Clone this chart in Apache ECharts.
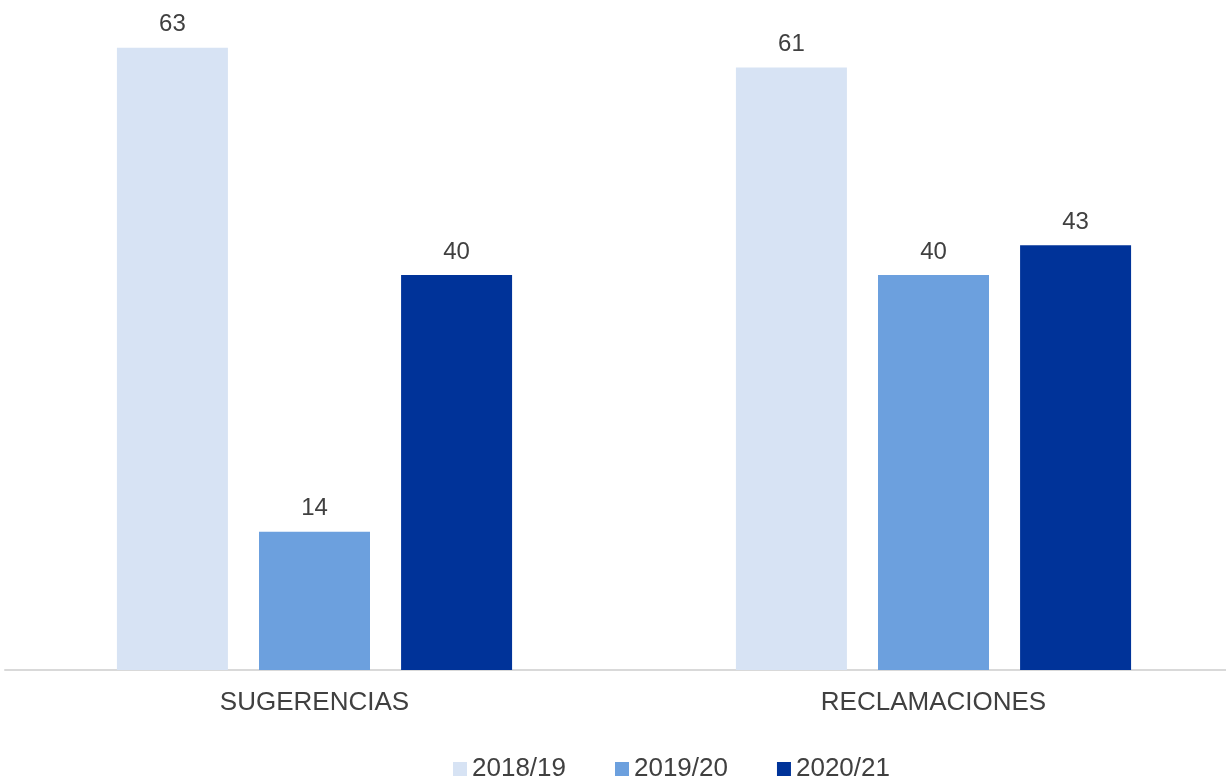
<!DOCTYPE html>
<html>
<head>
<meta charset="utf-8">
<script src="https://cdn.jsdelivr.net/npm/echarts@6/dist/echarts.min.js"></script>
<style>
  html, body { margin: 0; padding: 0; background: #ffffff; }
  #myChart { width: 1226px; height: 779px; }
</style>
</head>
<body>
<div id="myChart"></div>
<script>
var categories = ["SUGERENCIAS", "RECLAMACIONES"];
var seriesNames = ["2018/19", "2019/20", "2020/21"];
var values1819 = [63, 61];
var values1920 = [14, 40];
var values2021 = [40, 43];
var colors = ["#D7E3F4", "#6CA0DE", "#003399"];

var myChart = echarts.init(document.getElementById("myChart"));
var font = "Liberation Sans, Arial, sans-serif";

function makeSeries(name, data, color) {
  return {
    name: name,
    type: "bar",
    data: data,
    barWidth: 111,
    barGap: "28%",
    itemStyle: { color: color },
    label: {
      show: true,
      position: "top",
      distance: 11,
      color: "#404040",
      fontSize: 24,
      fontFamily: font
    }
  };
}

var option = {
  animation: false,
  color: colors,
  grid: { left: 5, right: -17, top: 28, height: 642, outerBoundsMode: "none", containLabel: false },
  legend: {
    top: 751,
    left: 448,
    itemWidth: 14,
    itemHeight: 14,
    itemGap: 49,
    icon: "rect",
    textStyle: { color: "#404040", fontSize: 26, fontFamily: font },
    data: seriesNames
  },
  xAxis: {
    type: "category",
    data: categories,
    axisLine: { lineStyle: { color: "#D9D9D9", width: 2 } },
    axisTick: { show: false },
    axisLabel: { color: "#404040", fontSize: 26, fontFamily: font, margin: 20 }
  },
  yAxis: {
    type: "value",
    min: 0,
    max: 65,
    show: false,
    splitLine: { show: false }
  },
  series: [
    makeSeries(seriesNames[0], values1819, colors[0]),
    makeSeries(seriesNames[1], values1920, colors[1]),
    makeSeries(seriesNames[2], values2021, colors[2])
  ]
};

option && myChart.setOption(option);
</script>
</body>
</html>
